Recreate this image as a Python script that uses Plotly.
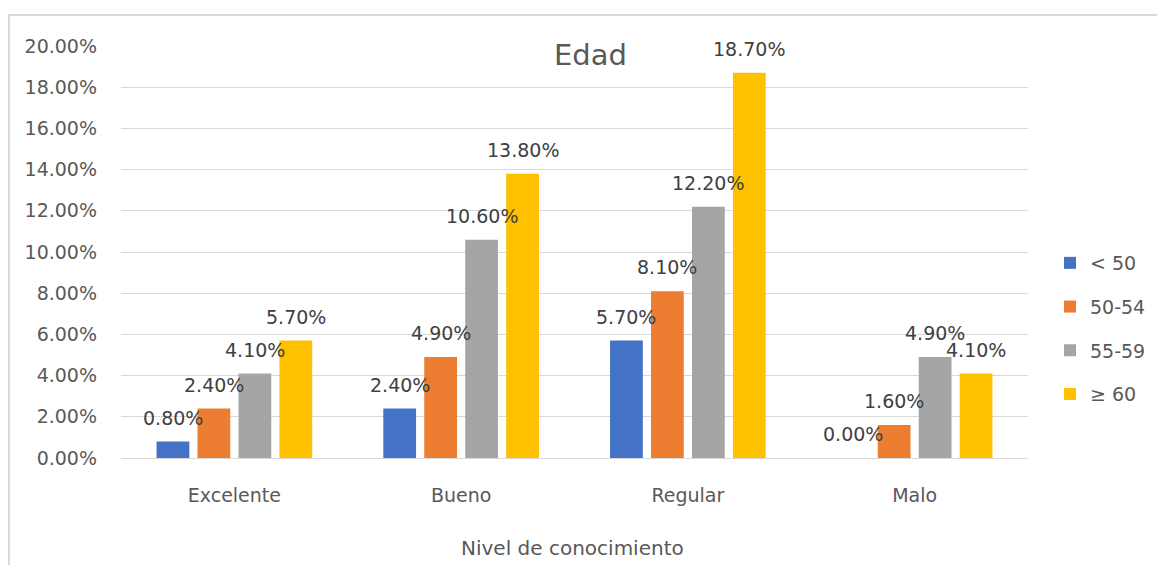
import plotly.graph_objects as go

# Knowledge level categories and age-group series (percent of respondents)
categories = ["Excelente", "Bueno", "Regular", "Malo"]
series_names = ["< 50", "50-54", "55-59", "≥ 60"]
values_lt50 = [0.80, 2.40, 5.70, 0.00]
values_50_54 = [2.40, 4.90, 8.10, 1.60]
values_55_59 = [4.10, 10.60, 12.20, 4.90]
values_ge60 = [5.70, 13.80, 18.70, 4.10]
y_ticks = [0, 2, 4, 6, 8, 10, 12, 14, 16, 18, 20]
y_tick_labels = [f"{t:.2f}%" for t in y_ticks]

series_values = [values_lt50, values_50_54, values_55_59, values_ge60]
colors = ["#4472C4", "#ED7D31", "#A5A5A5", "#FFC000"]

FONT = "DejaVu Sans"
TEXT = "#595959"
LABEL = "#404040"
GRID = "#D9D9D9"

BARGAP = 0.2775
GROUPGAP = 0.2
n = len(series_names)
slot = (1 - BARGAP) / n

xpos = list(range(len(categories)))

fig = go.Figure()
for k, (name, vals, col) in enumerate(zip(series_names, series_values, colors)):
    fig.add_trace(go.Bar(
        x=xpos, y=vals, name=name, marker=dict(color=col, line=dict(width=0)),
        legendgroup=name, hoverinfo="skip",
    ))

# value labels above each bar
annotations = []
for k, vals in enumerate(series_values):
    for i, v in enumerate(vals):
        annotations.append(dict(
            x=i + (k - (n - 1) / 2) * slot, y=v, xref="x", yref="y",
            text=f"{v:.2f}%", showarrow=False, yanchor="middle", yshift=24,
            font=dict(family=FONT, size=19, color=LABEL),
        ))

# x-axis title
annotations.append(dict(
    x=0.498, y=-0.2184, xref="paper", yref="paper", text="Nivel de conocimiento",
    showarrow=False, xanchor="center", yanchor="middle",
    font=dict(family=FONT, size=20, color=TEXT),
))

fig.update_layout(
    width=1157, height=565,
    margin=dict(l=121, r=129, t=46, b=107, autoexpand=False),
    paper_bgcolor="white", plot_bgcolor="white",
    barmode="group", bargap=BARGAP, bargroupgap=GROUPGAP,
    font=dict(family=FONT, color=TEXT),
    title=dict(text="Edad", x=0.5176, xref="paper", xanchor="center",
               y=1 - 55 / 565, yref="container", yanchor="middle",
               font=dict(family=FONT, size=29, color=TEXT)),
    xaxis=dict(
        range=[-0.5, len(categories) - 0.5], tickvals=xpos, ticktext=categories,
        showgrid=False, zeroline=False, showline=False, ticks="",
        ticklabelstandoff=24, tickfont=dict(family=FONT, size=19, color=TEXT),
        fixedrange=True,
    ),
    yaxis=dict(
        range=[0, 20], tickvals=y_ticks, ticktext=y_tick_labels,
        showgrid=True, gridcolor=GRID, gridwidth=1,
        zeroline=True, zerolinecolor=GRID, zerolinewidth=1,
        showline=False, ticks="", ticklabelstandoff=23,
        tickfont=dict(family=FONT, size=19, color=TEXT), fixedrange=True,
    ),
    legend=dict(
        xref="container", yref="container",
        x=1050 / 1157, xanchor="left", y=1 - 328.5 / 565, yanchor="middle",
        traceorder="grouped", tracegroupgap=16,
        font=dict(family=FONT, size=19, color=TEXT),
        bgcolor="rgba(0,0,0,0)",
    ),
    annotations=annotations,
    shapes=[dict(
        type="rect", xref="paper", yref="paper",
        x0=-0.1236, x1=1.16, y0=-0.28, y1=1.0752,
        line=dict(color=GRID, width=2), fillcolor="rgba(0,0,0,0)", layer="below",
    )],
    showlegend=True,
)

fig.write_html("out.html")
